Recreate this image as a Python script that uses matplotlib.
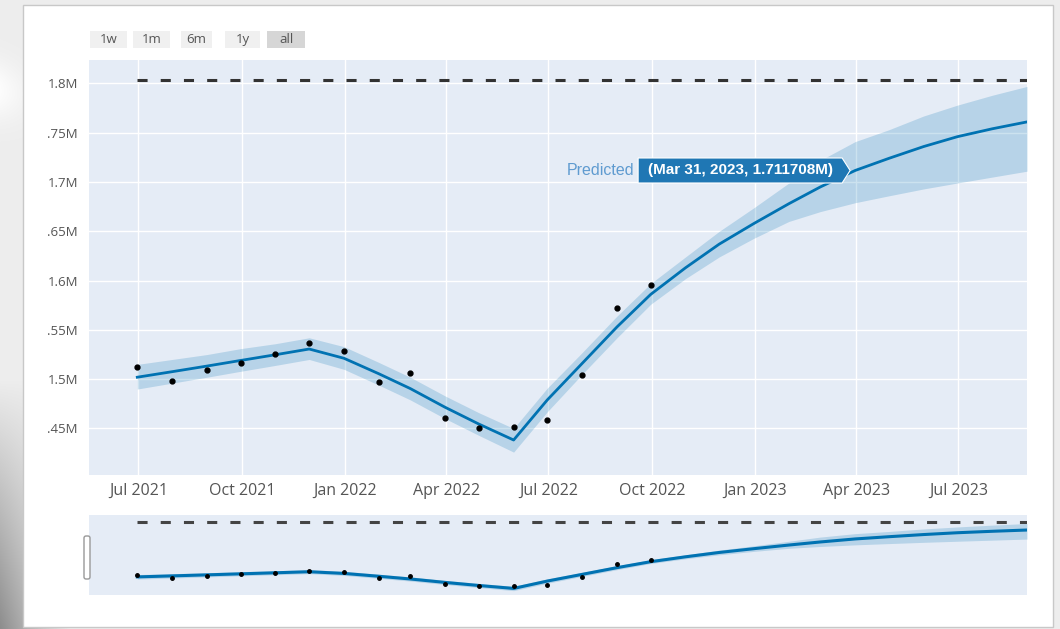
import numpy as np
import pandas as pd
import matplotlib
matplotlib.use("Agg")
import matplotlib.pyplot as plt
import matplotlib.dates as mdates
from matplotlib.patches import Rectangle, Polygon, FancyBboxPatch
from matplotlib.transforms import IdentityTransform

plt.rcParams['font.family'] = ['Open Sans', 'DejaVu Sans']

# monthly data, values in millions
hist_dates = pd.date_range("2021-06-30", "2022-09-30", freq="ME")
actual = [1.5124, 1.4979, 1.5097, 1.5161, 1.5256, 1.5364, 1.5283, 1.4972,
          1.5060, 1.4603, 1.4502, 1.4515, 1.4586, 1.5040, 1.5725, 1.5956]

fc_dates = pd.date_range("2021-06-30", "2023-08-31", freq="ME")
yhat = [1.502, 1.5076, 1.5133, 1.519, 1.5248, 1.5306, 1.5212, 1.5055,
        1.4905, 1.4715, 1.4545, 1.4383, 1.479, 1.516, 1.553, 1.586,
        1.613, 1.637, 1.658, 1.678, 1.695, 1.711708, 1.724, 1.736,
        1.746, 1.754, 1.761]
yhat_lower = [1.490, 1.496, 1.502, 1.508, 1.514, 1.520, 1.510, 1.494,
              1.479, 1.460, 1.443, 1.426, 1.467, 1.505, 1.542, 1.576,
              1.602, 1.624, 1.643, 1.660, 1.670, 1.679, 1.686, 1.693,
              1.699, 1.705, 1.711]
yhat_upper = [1.515, 1.520, 1.525, 1.531, 1.536, 1.542, 1.533, 1.517,
              1.502, 1.483, 1.466, 1.450, 1.491, 1.527, 1.564, 1.597,
              1.624, 1.650, 1.674, 1.699, 1.722, 1.741, 1.753, 1.767,
              1.778, 1.788, 1.797]
cap = 1.804

y_ticks = [1.45, 1.5, 1.55, 1.6, 1.65, 1.7, 1.75, 1.8]
y_tick_labels = [".45M", "1.5M", ".55M", "1.6M", ".65M", "1.7M", ".75M", "1.8M"]
buttons = ["1w", "1m", "6m", "1y", "all"]

hover_date = pd.Timestamp("2023-03-31")
hover_value = 1.711708

W, H = 1060, 629
line_color = "#0072B2"
band_color = (0 / 255, 114 / 255, 178 / 255, 0.2)
plot_bg = "#e5ecf6"
x_min = pd.Timestamp("2021-05-18")
x_max = pd.Timestamp("2023-08-31")

fig = plt.figure(figsize=(W / 100, H / 100), dpi=100)

# backdrop behind the chart card
bg = fig.add_axes([0, 0, 1, 1], zorder=-5)
yy, xx = np.mgrid[0:H, 0:W]
img = np.full((H, W, 3), 0.93)
shade = np.clip((yy - 380) / 250, 0, 1) * np.clip((70 - xx) / 70, 0, 1)
img -= 0.38 * shade[..., None]
swoosh = np.exp(-((yy - 90 - 0.15 * xx) ** 2) / 900) * np.clip((40 - xx) / 40, 0, 1)
img += 0.06 * swoosh[..., None]
bg.imshow(np.clip(img, 0, 1), extent=[0, W, H, 0], aspect="auto")
bg.set_xlim(0, W)
bg.set_ylim(H, 0)
bg.axis("off")
bg.add_patch(Rectangle((23, 5), 1030, 622, facecolor="white", edgecolor="#c8c8c8", lw=1))

# range selector buttons
bx = [90, 133, 181, 225, 267]
bw = [37, 37, 31, 35, 38]
for i, name in enumerate(buttons):
    face = "#d6d6d6" if name == "all" else "#f0f0f0"
    bg.add_patch(Rectangle((bx[i], 31), bw[i], 17, facecolor=face, edgecolor="none"))
    bg.text(bx[i] + bw[i] / 2, 39.5, name, ha="center", va="center", fontsize=9.5, color="#555555")

# main forecast panel
ax = fig.add_axes([89 / W, 1 - 475 / H, 938 / W, 415 / H])
ax.set_facecolor(plot_bg)
ax.fill_between(fc_dates, yhat_lower, yhat_upper, color=band_color, lw=0)
ax.plot(fc_dates, yhat, color=line_color, lw=2)
ax.plot(hist_dates, actual, "o", color="black", ms=3.5)
ax.plot([fc_dates[0], x_max], [cap, cap], color="#333333", lw=2.2, dashes=(3.3, 4.3))

ax.set_xlim(x_min, x_max)
ax.set_ylim(1.4028, 1.8238)
ax.xaxis.set_major_locator(mdates.MonthLocator(bymonth=[1, 4, 7, 10]))
ax.xaxis.set_major_formatter(mdates.DateFormatter("%b %Y"))
ax.set_yticks(y_ticks)
ax.set_yticklabels(y_tick_labels)
ax.tick_params(axis="x", length=0, pad=6, labelsize=11.5, labelcolor="#555555")
ax.tick_params(axis="y", length=0, pad=8, labelsize=9.5, labelcolor="#555555")
ax.grid(True, color="white", lw=1)
ax.set_axisbelow(True)
for s in ax.spines.values():
    s.set_visible(False)

# hover label at the highlighted forecast point
px, py = ax.transData.transform((mdates.date2num(hover_date), hover_value))
tip = px - 5
right = tip - 8
left = right - 204
top, bottom = py + 12.5, py - 12.5
box = Polygon([[left, bottom], [right, bottom], [tip, py], [right, top], [left, top]],
              closed=True, transform=IdentityTransform(), facecolor="#1f77b4",
              edgecolor="white", lw=0.8, zorder=10, clip_on=False)
fig.patches.append(box)
fig.text((left + right) / 2 / W, py / H, "(Mar 31, 2023, 1.711708M)", ha="center", va="center",
         color="white", fontsize=11, fontweight="bold",
         family=["Liberation Sans Narrow", "Liberation Sans", "DejaVu Sans"], zorder=11)
fig.text((left - 4) / W, py / H, "Predicted", ha="right", va="center", color="#5f9bd0",
         fontsize=11.5, family=["Liberation Sans Narrow", "Liberation Sans", "DejaVu Sans"], zorder=11)

# range slider preview
mini = fig.add_axes([89 / W, 1 - 595 / H, 938 / W, 80 / H])
mini.set_facecolor(plot_bg)
mini.fill_between(fc_dates, yhat_lower, yhat_upper, color=band_color, lw=0)
mini.plot(fc_dates, yhat, color=line_color, lw=2.2)
mini.plot(hist_dates, actual, "o", color="black", ms=2.5)
mini.plot([fc_dates[0], x_max], [cap, cap], color="#444444", lw=2.2, dashes=(3.3, 4.3))
mini.set_xlim(x_min, x_max)
mini.set_ylim(1.402, 1.844)
mini.set_xticks([])
mini.set_yticks([])
for s in mini.spines.values():
    s.set_visible(False)

handle = FancyBboxPatch((84, H - 579), 6, 43, boxstyle="round,pad=0,rounding_size=2",
                        transform=IdentityTransform(), facecolor="white",
                        edgecolor="#999999", lw=1, zorder=10)
fig.patches.append(handle)

fig.savefig("out.png", dpi=100)
